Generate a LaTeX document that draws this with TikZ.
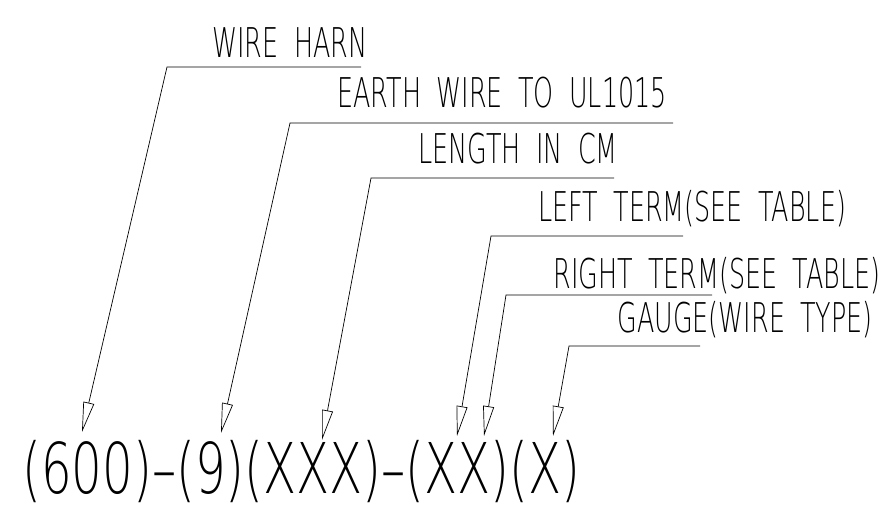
\documentclass[tikz,border=0pt]{standalone}
\usepackage{fontspec}
\newfontfamily\cadfont[FakeStretch=0.62,WordSpace=1.9]{DejaVu Sans ExtraLight}
\newfontfamily\cadbig[FakeStretch=0.69]{DejaVu Sans ExtraLight}
\usetikzlibrary{arrows.meta}
\begin{document}
\begin{tikzpicture}[x=1pt,y=-1pt,line width=0.7pt,every node/.style={inner sep=0pt,anchor=base west,font=\cadfont\fontsize{41}{41}\selectfont},
 leader/.style={-{Triangle[open,length=30pt,width=11pt]}}]
\useasboundingbox (0,0) rectangle (890,518);
\coordinate (harnR) at (361,67);
\coordinate (harnL) at (167,67);
\coordinate (harnT) at (82,432);
\coordinate (earthR) at (673,123);
\coordinate (earthL) at (290,123);
\coordinate (earthT) at (221,433);
\coordinate (lenR) at (614,178);
\coordinate (lenL) at (371,178);
\coordinate (lenT) at (322,440);
\coordinate (ltermR) at (683,236);
\coordinate (ltermL) at (491,236);
\coordinate (ltermT) at (457,436);
\coordinate (rtermR) at (712,295);
\coordinate (rtermL) at (506,295);
\coordinate (rtermT) at (484,436);
\coordinate (gaugeR) at (700,346);
\coordinate (gaugeL) at (569,346);
\coordinate (gaugeT) at (553,436);
\node (harn) at (212,58) {WIRE HARN};
\node (earth) at (337,108) {EARTH WIRE TO UL1015};
\node (len) at (418,164) {LENGTH IN CM};
\node (lterm) at (538,222) {LEFT TERM(SEE TABLE)};
\node (rterm) at (553,288) {RIGHT TERM(SEE TABLE)};
\node (gauge) at (617,332) {GAUGE(WIRE TYPE)};
\node[font=\cadbig\fontsize{70}{70}\selectfont] (code) at (22,493) {(600)–(9)(XXX)–(XX)(X)};
\draw[leader] (harnR) -- (harnL) -- (harnT);
\draw[leader] (earthR) -- (earthL) -- (earthT);
\draw[leader] (lenR) -- (lenL) -- (lenT);
\draw[leader] (ltermR) -- (ltermL) -- (ltermT);
\draw[leader] (rtermR) -- (rtermL) -- (rtermT);
\draw[leader] (gaugeR) -- (gaugeL) -- (gaugeT);
\end{tikzpicture}
\end{document}
